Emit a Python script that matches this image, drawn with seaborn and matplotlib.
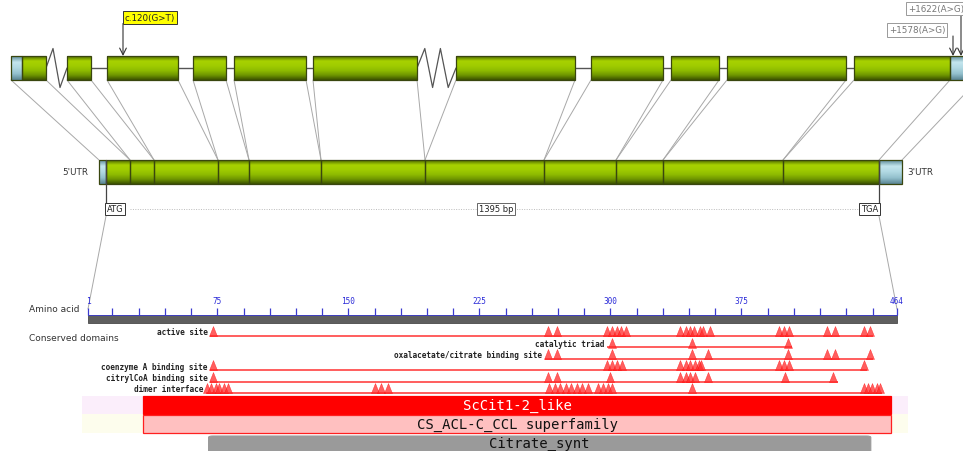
import numpy as np
import pandas as pd
import matplotlib
matplotlib.use("Agg")
import matplotlib.pyplot as plt
from matplotlib.patches import Rectangle, FancyBboxPatch
from matplotlib.colors import LinearSegmentedColormap
import seaborn as sns

sns.set_theme(style="white")
plt.rcParams['font.family'] = ['DejaVu Sans']

# ---------------- gene structure (track units along the drawing) ----------------
utr5_gene = [11, 22]
exon_start = [22, 67, 107, 193, 234, 313, 456, 591, 671, 727, 854]
exon_end = [46, 91, 178, 226, 306, 417, 575, 663, 719, 846, 950]
utr3_gene = [950, 978]
broken_introns = [0, 5]      # intron after exon index, drawn as zigzag
zig_count = [1, 2]

# spliced transcript
utr5_cds = [99, 106]
cds_bounds = [106, 130, 154, 218, 249, 321, 425, 544, 616, 663, 783, 879]
utr3_cds = [879, 902]

# variants
var_labels = ['c.120(G>T)', '+1578(A>G)', '+1622(A>G)']
var_pos = [123, 953, 961]
var_colors = ['#ffff00', 'white', 'white']

cds_label = '1395 bp'

# ---------------- protein ----------------
protein_len = 464
aa_labeled = [1, 75, 150, 225, 300, 375, 464]

feature_names = ['active site', 'catalytic triad', 'oxalacetate/citrate binding site',
                 'coenzyme A binding site', 'citrylCoA binding site', 'dimer interface']
feature_start = [71, 298, 262.5, 71, 71, 68.5]
feature_end = [450, 404, 450, 447, 430, 455.5]
sites_active = [72.5, 264.3, 269.4, 298, 301, 304, 306, 309, 340, 343, 345.5, 348,
                351, 353, 357, 396.5, 399.3, 402, 424, 428.5, 445, 448.6]
sites_triad = [301, 346.6, 401.6]
sites_oxal = [264.3, 269.4, 301, 346.6, 355.8, 401.6, 424, 428.5, 448.6]
sites_coa = [72.5, 298, 301, 304, 306.6, 340, 343, 345.5, 348.4, 350.7, 352,
             396.5, 399.3, 402, 445]
sites_citryl = [72.5, 264.3, 269.4, 300, 340, 343, 345.5, 348.4, 355.8, 399.9, 427.4]
sites_dimer = [69, 71.5, 74, 76, 79, 81, 165.3, 168.7, 172.7, 265, 268.3, 271, 274.6,
               277.4, 281, 283.7, 287.2, 293, 295.7, 298.6, 301, 346.6, 445, 447.4,
               449.7, 452.6, 454]
feature_sites = [sites_active, sites_triad, sites_oxal, sites_coa, sites_citryl, sites_dimer]

domain_names = ['ScCit1-2_like', 'CS_ACL-C_CCL superfamily', 'Citrate_synt']
domain_start = [32.5, 32.5, 70]
domain_end = [460.6, 460.6, 449]

# ---------------- layout ----------------
W, H = 963, 452
GENE_Y = (57, 81)
CDS_Y = (161, 185)
ATG_Y = 210
BAR_Y = (316, 324)
ROW_Y0, ROW_STEP = 337, 11.4
PX_L, PX_R = 88, 897          # pixel span of aa 1..464
px_per_aa = (PX_R - PX_L) / (protein_len - 1)

green = LinearSegmentedColormap.from_list(
    'g', ['#4f6a00', '#a8d200', '#a0cc00', '#8fbc00', '#6f9600', '#3c5200'])
blue = LinearSegmentedColormap.from_list(
    'b', ['#5e8c9a', '#c4e6ee', '#b0d8e2', '#92bfcc', '#5a8593'])
grad = np.linspace(0, 1, 64).reshape(-1, 1)

fig = plt.figure(figsize=(W / 100, H / 100), dpi=100)
ax = fig.add_axes([0, 0, 1, 1])
ax.set_xlim(0, W)
ax.set_ylim(H, 0)
ax.axis('off')

axp = fig.add_axes([0, 0, 1, 1])
axp.set_xlim(1 - PX_L / px_per_aa, 1 + (W - PX_L) / px_per_aa)
axp.set_ylim(H, 0)
axp.axis('off')
axp.patch.set_alpha(0)


def block(a, x0, x1, y0, y1, cmap, z=3):
    r = Rectangle((x0, y0), x1 - x0, y1 - y0, facecolor='none',
                  edgecolor='#39460f', lw=0.9, zorder=z + 1)
    a.add_patch(r)
    im = a.imshow(grad, extent=(x0, x1, y1, y0), cmap=cmap, aspect='auto',
                  origin='upper', zorder=z, interpolation='bilinear')
    im.set_clip_path(r)


# ---- genomic track ----
ymid = sum(GENE_Y) / 2
for i in range(len(exon_start) - 1):
    x0, x1 = exon_end[i], exon_start[i + 1]
    if i in broken_introns:
        n = zig_count[broken_introns.index(i)]
        xs = np.linspace(x0, x1, 2 * n + 2)
        ys = [ymid] + [ymid - 19.5 if k % 2 == 0 else ymid + 19.5 for k in range(2 * n)] + [ymid]
        ax.plot(xs, ys, color='#555555', lw=0.9, zorder=2)
    else:
        ax.plot([x0, x1], [ymid, ymid], color='#555555', lw=1.0, zorder=2)

block(ax, utr5_gene[0], utr5_gene[1], *GENE_Y, blue)
for s, e in zip(exon_start, exon_end):
    block(ax, s, e, *GENE_Y, green)
block(ax, utr3_gene[0], utr3_gene[1], *GENE_Y, blue)

# connectors genomic -> transcript
pairs = [(utr5_gene[0], utr5_cds[0])]
for i in range(len(exon_start)):
    if i > 0:
        pairs.append((exon_start[i], cds_bounds[i]))
    pairs.append((exon_end[i], cds_bounds[i + 1]))
pairs.append((utr3_gene[1], utr3_cds[1]))
for gx, cx in pairs:
    ax.plot([gx, cx], [GENE_Y[1], CDS_Y[0]], color='#a8a8a8', lw=0.7, zorder=1)

# variants
box_y = [18.5, 31, 9.5]
box_x = [150, 917, 936]
for lab, pos, col, bx, by in zip(var_labels, var_pos, var_colors, box_x, box_y):
    tc = '#222222' if col != 'white' else '#777777'
    ec = '#333333' if col != 'white' else '#999999'
    ax.text(bx, by, lab, ha='center', va='center', fontsize=6.3, color=tc, zorder=6,
            bbox=dict(boxstyle='square,pad=0.25', facecolor=col, edgecolor=ec, lw=0.7))
    ax.annotate('', xy=(pos, GENE_Y[0]), xytext=(pos, by + 6),
                arrowprops=dict(arrowstyle='->', color='#333333', lw=0.8,
                                shrinkA=0, shrinkB=0), zorder=5)

# ---- transcript track ----
block(ax, utr5_cds[0], utr5_cds[1], *CDS_Y, blue)
for i in range(len(cds_bounds) - 1):
    block(ax, cds_bounds[i], cds_bounds[i + 1], *CDS_Y, green)
block(ax, utr3_cds[0], utr3_cds[1], *CDS_Y, blue)
ax.text(88, sum(CDS_Y) / 2, "5'UTR", ha='right', va='center', fontsize=6.3, color='#333333')
ax.text(907, sum(CDS_Y) / 2, "3'UTR", ha='left', va='center', fontsize=6.3, color='#333333')

ax.plot([cds_bounds[1], cds_bounds[-2] + 96], [ATG_Y, ATG_Y], color='#bbbbbb', lw=0.7,
        ls=(0, (1, 1.5)), zorder=1)
for x in [cds_bounds[0], cds_bounds[-1]]:
    ax.plot([x, x], [CDS_Y[0], ATG_Y - 6], color='#444444', lw=0.9, zorder=5)
ax.text(cds_bounds[0] + 1, ATG_Y, 'ATG', ha='left', va='center', fontsize=6, color='#222222',
        zorder=6, bbox=dict(boxstyle='square,pad=0.2', facecolor='white', edgecolor='#333333', lw=0.7))
ax.text(cds_bounds[-1] - 1, ATG_Y, 'TGA', ha='right', va='center', fontsize=6, color='#222222',
        zorder=6, bbox=dict(boxstyle='square,pad=0.2', facecolor='white', edgecolor='#333333', lw=0.7))
ax.text(496, ATG_Y, cds_label, ha='center', va='center', fontsize=6, color='#222222', zorder=6,
        bbox=dict(boxstyle='square,pad=0.2', facecolor='white', edgecolor='#666666', lw=0.7))
ax.plot([cds_bounds[0], PX_L], [ATG_Y + 7, BAR_Y[0] - 6], color='#a8a8a8', lw=0.7)
ax.plot([cds_bounds[-1], PX_R], [ATG_Y + 7, BAR_Y[0] - 6], color='#a8a8a8', lw=0.7)

# ---- protein axis ----
ax.text(29, 310, 'Amino acid', ha='left', va='center', fontsize=6.5, color='#333333')
ax.text(29, 339, 'Conserved domains', ha='left', va='center', fontsize=6.5, color='#333333')
axp.add_patch(Rectangle((1, BAR_Y[0]), protein_len - 1, BAR_Y[1] - BAR_Y[0],
                        facecolor='#5f5f5f', edgecolor='#4a4a4a', lw=0.6, zorder=3))
tick_pos = [1] + list(range(15, protein_len, 15)) + [protein_len]
axp.vlines(tick_pos, BAR_Y[0] - 7, BAR_Y[0], color='#3a3ad0', lw=0.9, zorder=4)
axp.plot([1, protein_len], [BAR_Y[0], BAR_Y[0]], color='#3a3ad0', lw=0.6, zorder=4)
for t in aa_labeled:
    axp.text(t, BAR_Y[0] - 10, str(t), ha='center', va='bottom', fontsize=5.6,
             family='DejaVu Sans Mono', color='#2a2ad8')

# ---- conserved feature rows ----
rows = []
for k, (name, s, e, sites) in enumerate(zip(feature_names, feature_start, feature_end, feature_sites)):
    y = ROW_Y0 + k * ROW_STEP
    axp.plot([s, e], [y, y], color='#ff5050', lw=1.3, zorder=3, solid_capstyle='butt')
    axp.text(s - 1.5, y - 4, name, ha='right', va='center', fontsize=5.6,
             family='DejaVu Sans Mono', fontweight='bold', color='#222222')
    rows.append(pd.DataFrame({'feature': name, 'aa': sites, 'y': y - 4.8}))
sites_df = pd.concat(rows, ignore_index=True)

tri = [(-0.4, -0.5), (0.4, -0.5), (0.0, 0.5), (-0.4, -0.5)]
sns.scatterplot(data=sites_df, x='aa', y='y', ax=axp, marker=tri, s=52,
                color='#ff2a2a', edgecolor='#ff0000', linewidth=0.3, alpha=0.75,
                legend=False, zorder=5)
axp.set_xlim(1 - PX_L / px_per_aa, 1 + (W - PX_L) / px_per_aa)
axp.set_ylim(H, 0)
axp.axis('off')

# ---- domain hits ----
band_l, band_r = 1 - (PX_L - 82) / px_per_aa, 1 + (908 - PX_L) / px_per_aa
axp.add_patch(Rectangle((band_l, 397), band_r - band_l, 18, facecolor='#fbeefb', lw=0, zorder=1))
axp.add_patch(Rectangle((band_l, 415), band_r - band_l, 19, facecolor='#fdfded', lw=0, zorder=1))
dom_y = [397, 416, 437]
dom_h = [18, 18, 20]
dom_ty = [406, 425, 444]
dom_face = ['#ff0000', '#ffc0c0', '#9a9a9a']
dom_edge = ['#ff0000', '#ff2020', '#9a9a9a']
dom_text = ['white', '#111111', '#111111']
for name, s, e, y, h, ty, fc, ec, tc in zip(domain_names, domain_start, domain_end,
                                            dom_y, dom_h, dom_ty, dom_face, dom_edge, dom_text):
    if name == 'Citrate_synt':
        p = FancyBboxPatch((s, y), e - s, h, boxstyle='round,pad=0,rounding_size=2.5',
                           mutation_aspect=1 / px_per_aa, facecolor=fc, edgecolor=ec, lw=0.8, zorder=3)
    else:
        p = Rectangle((s, y), e - s, h, facecolor=fc, edgecolor=ec, lw=0.9, zorder=3)
    axp.add_patch(p)
    axp.text((s + e) / 2, ty, name, ha='center', va='center', fontsize=10,
             family='DejaVu Sans Mono', color=tc, zorder=4)

fig.savefig('out.png', dpi=100)
